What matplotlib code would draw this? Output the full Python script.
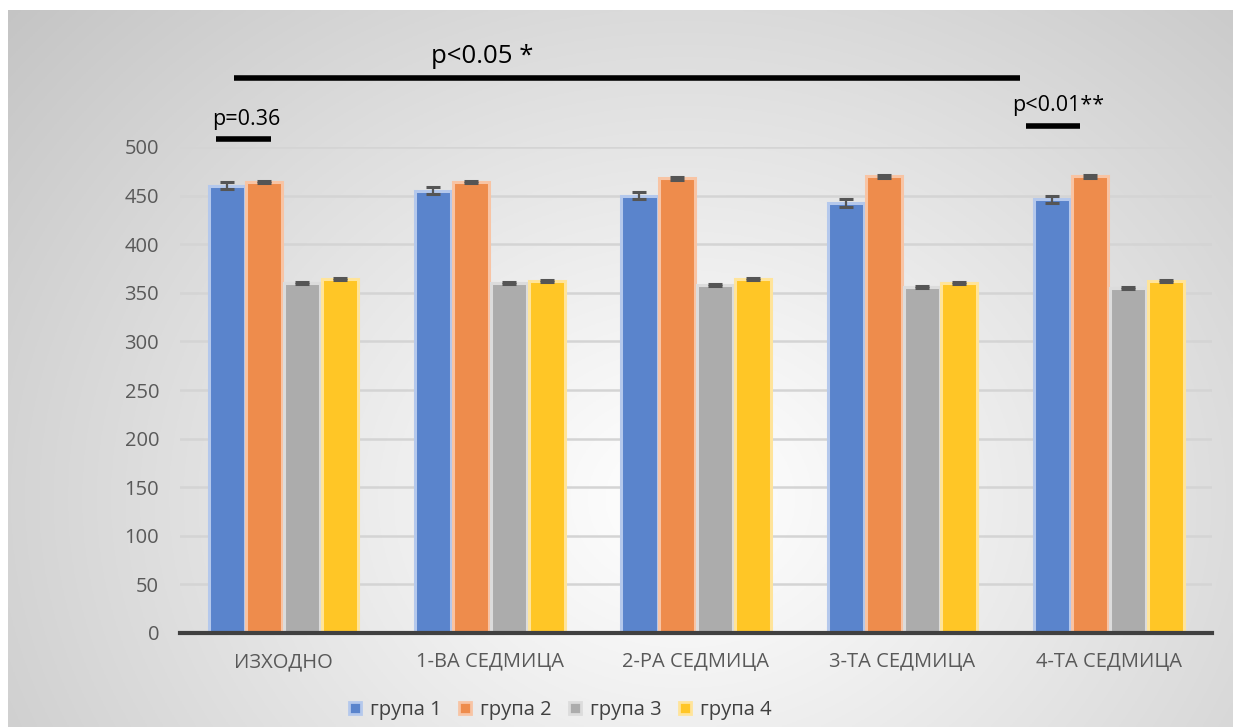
import numpy as np
import matplotlib
matplotlib.use("Agg")
import matplotlib.pyplot as plt
from matplotlib.lines import Line2D

plt.rcParams['font.family'] = ['Open Sans', 'DejaVu Sans']

categories = ["ИЗХОДНО", "1-ВА СЕДМИЦА", "2-РА СЕДМИЦА", "3-ТА СЕДМИЦА", "4-ТА СЕДМИЦА"]
series_names = ["група 1", "група 2", "група 3", "група 4"]
g1 = [460, 455, 450, 442, 446]
g2 = [464, 464, 468, 470, 470]
g3 = [360, 360, 358, 356, 355]
g4 = [364, 362, 364, 360, 362]
g1_err = [3.5, 3.5, 3.5, 4, 3.5]
g2_err = [1.5, 1.5, 1.5, 1.5, 1.5]
g3_err = [1, 1, 1, 1, 1]
g4_err = [1, 1, 1, 1, 1]
yticks = [0, 50, 100, 150, 200, 250, 300, 350, 400, 450, 500]

fills = ["#5a84cc", "#ee8c4c", "#acacac", "#ffc626"]
edges = ["#b4c8ec", "#f8c4a4", "#dcdcdc", "#ffe49a"]

W, H = 1239, 727
fig = plt.figure(figsize=(W / 100, H / 100), dpi=100)
fig.patch.set_facecolor("white")

# background gradient panel
bg = fig.add_axes([8 / W, 0, 1 - 14 / W, 1 - 10 / H])
bg.set_axis_off()
ny, nx = 300, 500
yy, xx = np.mgrid[0:ny, 0:nx]
cx, cy = 0.55 * nx, 0.68 * ny
d = np.sqrt(((xx - cx) / nx) ** 2 + ((yy - cy) / ny * 0.7) ** 2)
d = d / d.max()
val = 1.0 - 0.23 * np.clip(d, 0, 1) ** 1.1
img = np.dstack([val, val, val])
bg.imshow(img, aspect="auto", extent=[0, 1, 0, 1], origin="upper")
bg.set_xlim(0, 1)
bg.set_ylim(0, 1)

ax = fig.add_axes([180 / W, 1 - 633 / H, (1212 - 180) / W, (633 - 147) / H])
ax.patch.set_alpha(0)

x = np.arange(len(categories))
width = 0.175
offsets = [-0.274, -0.091, 0.093, 0.276]
series = [g1, g2, g3, g4]
errs = [g1_err, g2_err, g3_err, g4_err]
for i in range(4):
    ax.bar(x + offsets[i], series[i], width, color=fills[i], edgecolor=edges[i],
           linewidth=2.2, zorder=3, label=series_names[i])
    ax.errorbar(x + offsets[i], series[i], yerr=errs[i], fmt="none",
                ecolor="#555555", elinewidth=1.6, capsize=5, capthick=2.2, zorder=4)

ax.set_xlim(-0.5, len(categories) - 0.5)
ax.set_ylim(0, 500)
ax.set_yticks(yticks)
ax.set_xticks(x)
ax.set_xticklabels(categories)
ax.yaxis.grid(True, color="#d4d4d4", linewidth=1.8, zorder=0)
ax.set_axisbelow(True)
for s in ["left", "right", "top"]:
    ax.spines[s].set_visible(False)
ax.spines["bottom"].set_color("#404040")
ax.spines["bottom"].set_linewidth(3)
ax.spines["bottom"].set_zorder(5)
ax.tick_params(axis="both", length=0, labelsize=14.5, colors="#595959")
ax.tick_params(axis="x", pad=14)
ax.tick_params(axis="y", pad=15)

# significance annotations
ann_kw = dict(color="black", linewidth=4, solid_capstyle="butt", clip_on=False, zorder=6)
ax.plot([-0.238, 3.57], [571, 571], **ann_kw)
ax.text(0.963, 593, "p<0.05 *", ha="center", va="center", fontsize=18.5, color="black", clip_on=False)
ax.plot([-0.326, -0.059], [508, 508], **ann_kw)
ax.text(-0.345, 528, "p=0.36", ha="left", va="center", fontsize=15.5, color="black", clip_on=False)
ax.plot([3.60, 3.86], [521.5, 521.5], **ann_kw)
ax.text(3.532, 543, "p<0.01**", ha="left", va="center", fontsize=15.5, color="black", clip_on=False)

handles = [Line2D([0], [0], marker="s", linestyle="none", markersize=9,
                  markerfacecolor=fills[i], markeredgecolor=edges[i], markeredgewidth=2)
           for i in range(4)]
fig.legend(handles, series_names, loc="center", bbox_to_anchor=(559 / W, 1 - 710 / H),
           ncol=4, frameon=False, fontsize=14.5, handlelength=0.8, handletextpad=0.35,
           columnspacing=0.75, labelcolor="#404040")

fig.savefig("out.png", dpi=100, facecolor="white")
